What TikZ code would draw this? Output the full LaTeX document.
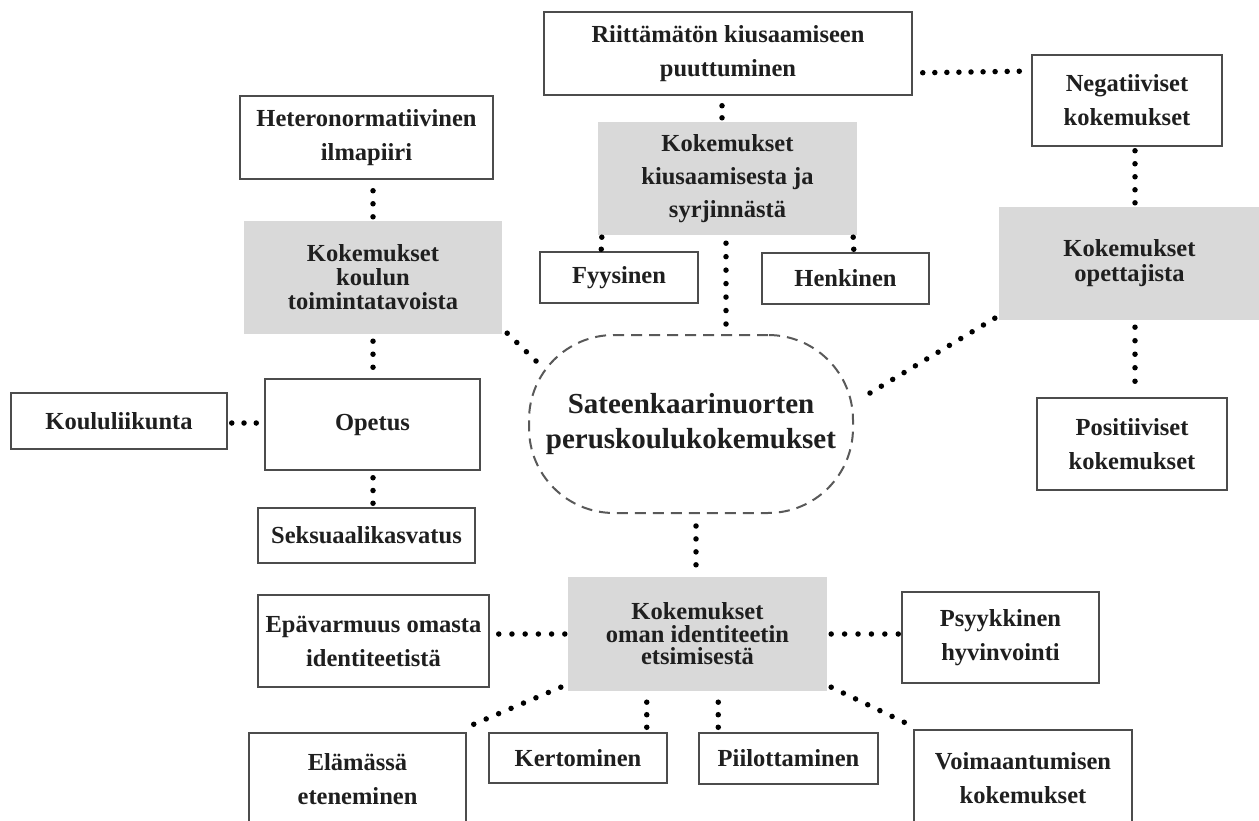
\documentclass[tikz,border=0pt]{standalone}
\usepackage{fontspec}
\setmainfont{Liberation Serif}
\usetikzlibrary{calc}
\begin{document}
\begin{tikzpicture}[x=1pt,y=-1pt,
  base/.style={inner sep=0pt, align=center, text=black!88, font=\bfseries\fontsize{24.5}{34}\selectfont},
  wbox/.style={base, draw=black!70, line width=1.5pt, fill=white},
  gbox/.style={base, fill=black!15, font=\bfseries\fontsize{24.5}{24}\selectfont},
  cloudbox/.style={base, draw=black!65, line width=2pt, dash pattern=on 11pt off 7pt, rounded corners=85pt, font=\bfseries\fontsize{29}{35}\selectfont},
  dotfill/.style={fill=black}
]
\fill[white] (0,0) rectangle (1259,821);
\useasboundingbox (0,0) rectangle (1259,821);

% nodes
\node[wbox, minimum width=368pt, minimum height=83pt] (riit) at (728,53.5) {Riittämätön kiusaamiseen\\puuttuminen};
\node[wbox, minimum width=190pt, minimum height=91pt] (neg) at (1127,100.5) {Negatiiviset\\kokemukset};
\node[wbox, minimum width=253pt, minimum height=83pt] (hetero) at (366.5,137.5) {Heteronormatiivinen\\ilmapiiri};
\node[gbox, font=\bfseries\fontsize{24.5}{33}\selectfont, minimum width=259pt, minimum height=113pt] (kius) at (727.5,178.5) {Kokemukset\\kiusaamisesta ja\\syrjinnästä};
\node[gbox, minimum width=258pt, minimum height=113pt] (koulun) at (373,277.5) {Kokemukset\\koulun\\toimintatavoista};
\node[wbox, minimum width=158pt, minimum height=51pt] (fyys) at (619,277.5) {Fyysinen};
\node[wbox, minimum width=167pt, minimum height=51pt] (henk) at (845.5,278.5) {Henkinen};
\node[gbox, font=\bfseries\fontsize{24.5}{25}\selectfont, minimum width=261pt, minimum height=113pt] (opett) at (1129.5,263.5) {Kokemukset\\opettajista};
\node[cloudbox, minimum width=324pt, minimum height=178pt] (cl) at (691,424) {Sateenkaarinuorten\\peruskoulukokemukset};
\node[wbox, minimum width=216pt, minimum height=56pt] (koulul) at (119,421) {Koululiikunta};
\node[wbox, minimum width=215pt, minimum height=91pt] (opetus) at (372.5,424.5) {Opetus};
\node[wbox, minimum width=190pt, minimum height=92pt] (posit) at (1132,444) {Positiiviset\\kokemukset};
\node[wbox, minimum width=217pt, minimum height=55pt] (seks) at (366.5,535.5) {Seksuaalikasvatus};
\node[wbox, minimum width=231pt, minimum height=92pt] (epav) at (373.5,641) {Epävarmuus omasta\\identiteetistä};
\node[gbox, font=\bfseries\fontsize{24.5}{22.5}\selectfont, minimum width=259pt, minimum height=114pt] (ident) at (697.5,634) {Kokemukset\\oman identiteetin\\etsimisestä};
\node[wbox, minimum width=197pt, minimum height=91pt] (psyyk) at (1000.5,637.5) {Psyykkinen\\hyvinvointi};
\node[wbox, minimum width=217pt, minimum height=93pt] (elam) at (357.5,779.5) {Elämässä\\eteneminen};
\node[wbox, minimum width=178pt, minimum height=50pt] (kert) at (578,758) {Kertominen};
\node[wbox, minimum width=179pt, minimum height=51pt] (piil) at (788.5,758.5) {Piilottaminen};
\node[wbox, minimum width=218pt, minimum height=96pt] (voim) at (1023,778) {Voimaantumisen\\kokemukset};

% connector end points (taken from the named nodes)
\coordinate (c1a) at ($(hetero.south -| koulun.north)+(0,11)$);
\coordinate (c1b) at ($(koulun.north)+(0,-4)$);
\coordinate (c2a) at ($(koulun.south)+(0,7)$);
\coordinate (c2b) at ($(koulun.south |- opetus.north)+(0,-11)$);
\coordinate (c3a) at ($(koulul.east)+(4,2)$);
\coordinate (c3b) at ($(koulul.east -| opetus.west)+(-8,2)$);
\coordinate (c4a) at ($(opetus.south -| koulun.south)+(0,7)$);
\coordinate (c4b) at ($(seks.north -| koulun.south)+(0,-4)$);
\coordinate (c5a) at ($(koulun.south east)+(5,-1)$);
\coordinate (c5b) at ($(cl.west)+(8,-63)$);
\coordinate (c6a) at ($(riit.south)+(-6,10)$);
\coordinate (c6b) at ($(kius.north)+(-5.5,-4)$);
\coordinate (c7a) at ($(kius.south west)+(4,2)$);
\coordinate (c7b) at ($(fyys.north west)+(62,-2)$);
\coordinate (c8a) at ($(kius.south east)+(-4,2)$);
\coordinate (c8b) at ($(henk.north east)+(-76,-3)$);
\coordinate (c9a) at ($(kius.south)+(-1.5,8)$);
\coordinate (c9b) at ($(cl.north)+(35,-10)$);
\coordinate (c10a) at ($(riit.south east)+(10,-23)$);
\coordinate (c10b) at ($(neg.north west)+(-12,17)$);
\coordinate (c11a) at ($(neg.south)+(8,4)$);
\coordinate (c11b) at ($(opett.north -| neg.south)+(8,-4)$);
\coordinate (c12a) at ($(opett.south -| neg.south)+(8,7)$);
\coordinate (c12b) at ($(posit.north -| neg.south)+(8,-16)$);
\coordinate (c13a) at ($(opett.south west)+(-4,-2)$);
\coordinate (c13b) at ($(cl.east)+(16,-31)$);
\coordinate (c14a) at ($(cl.south)+(5,12)$);
\coordinate (c14b) at ($(ident.north)+(-1.5,-12)$);
\coordinate (c15a) at ($(epav.east |- ident.west)+(9,0)$);
\coordinate (c15b) at ($(ident.west)+(-3,0)$);
\coordinate (c16a) at ($(ident.east)+(4,0)$);
\coordinate (c16b) at ($(ident.east -| psyyk.west)+(-3,0)$);
\coordinate (c17a) at ($(ident.south west)+(-7,-4)$);
\coordinate (c17b) at ($(elam.north east)+(7,-8)$);
\coordinate (c18a) at ($(ident.south -| kert.north east)+(-21,11)$);
\coordinate (c18b) at ($(kert.north east)+(-21,-5)$);
\coordinate (c19a) at ($(ident.south -| piil.north west)+(20,11)$);
\coordinate (c19b) at ($(piil.north west)+(20,-5)$);
\coordinate (c20a) at ($(ident.south east)+(4,-4)$);
\coordinate (c20b) at ($(voim.north west)+(-9,-7)$);

% dotted connectors: k / number of gaps
\foreach \k/\n in {1/2, 2/2, 3/2, 4/2, 5/3, 6/1, 7/1, 8/1, 9/6, 10/8,
                   11/4, 12/4, 13/11, 14/3, 15/5, 16/5, 17/7, 18/2, 19/2, 20/6}
  \foreach \i in {0,...,\n}
    \fill[dotfill] ($(c\k a)!\i/\n!(c\k b)$) circle[radius=2.75pt];
\end{tikzpicture}
\end{document}
